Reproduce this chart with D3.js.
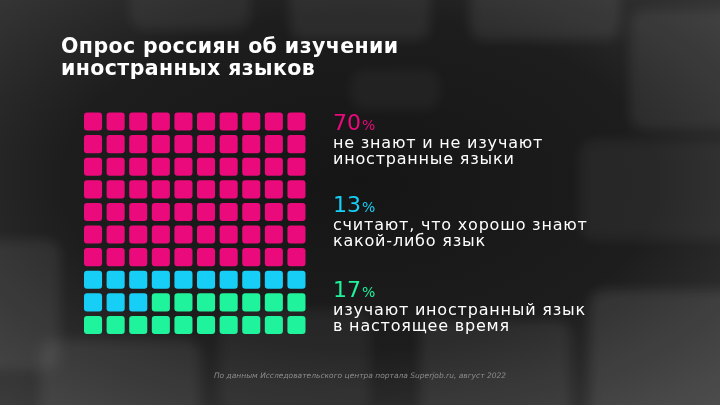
<!DOCTYPE html>
<html>
<head>
<meta charset="utf-8">
<script src="https://cdn.jsdelivr.net/npm/d3@7"></script>
<style>
  html, body { margin: 0; padding: 0; background: #1b1b1b; }
  svg { display: block; }
  text { font-family: "DejaVu Sans", "Noto Sans", sans-serif; }
</style>
</head>
<body>
<div class="container"></div>
<script>
// survey shares, one square per percent
const categories = ['dont', 'know', 'learn'];
const values = [70, 13, 17];
const colors = ['#ea0a7c', '#17cff6', '#1ff39b'];
const labels = [
    ['не знают и не изучают', 'иностранные языки'],
    ['считают, что хорошо знают', 'какой-либо язык'],
    ['изучают иностранный язык', 'в настоящее время']
];
const title = ['Опрос россиян об изучении', 'иностранных языков'];
const source = 'По данным Исследовательского центра портала Superjob.ru, август 2022';

const width = 720;
const height = 405;

const svg = d3.select('.container').append('svg').attr('width', width).attr('height', height);

// background, dark with a few soft blocks
const defs = svg.append('defs');
const bg = defs.append('radialGradient').attr('id', 'bg').attr('cx', '50%').attr('cy', '45%').attr('r', '75%');
bg.append('stop').attr('offset', '0%').attr('stop-color', '#151515');
bg.append('stop').attr('offset', '55%').attr('stop-color', '#1d1d1d');
bg.append('stop').attr('offset', '100%').attr('stop-color', '#3c3c3c');

defs.append('filter').attr('id', 'soft').attr('x', '-30%').attr('y', '-30%').attr('width', '160%').attr('height', '160%')
    .append('feGaussianBlur').attr('stdDeviation', 6);

svg.append('rect').attr('width', width).attr('height', height).attr('fill', 'url(#bg)');

const blocks = [
    [130, -30, 120, 60, 0.06], [290, -20, 140, 60, 0.07], [470, -30, 150, 70, 0.08],
    [630, 10, 110, 120, 0.07], [580, 140, 160, 100, 0.05], [-20, 240, 80, 130, 0.07],
    [420, 320, 150, 100, 0.07], [590, 290, 150, 130, 0.09], [40, 340, 160, 80, 0.07],
    [220, 310, 150, 100, 0.05], [350, 70, 90, 40, 0.04]
];
svg.append('g').attr('filter', 'url(#soft)').selectAll('rect').data(blocks).enter().append('rect')
    .attr('x', d => d[0]).attr('y', d => d[1])
    .attr('width', d => d[2]).attr('height', d => d[3])
    .attr('rx', 14).attr('fill', '#ffffff').attr('opacity', d => d[4]);

// title
svg.append('g').selectAll('text').data(title).enter().append('text')
    .attr('x', 61)
    .attr('y', (d, i) => 53 + i * 22)
    .attr('fill', '#ffffff')
    .attr('font-size', 20.5)
    .attr('font-weight', 700)
    .attr('letter-spacing', 0.4)
    .text(d => d);

// waffle grid
let cells = [];
categories.forEach((c, i) =>
{
    for (let k = 0; k < values[i]; k++)
        cells.push(i);
});

const cols = d3.range(10);
const x = d3.scaleBand().domain(cols).range([84, 305.5]).paddingInner(0.2).paddingOuter(0);
const y = d3.scaleBand().domain(cols).range([112.5, 334]).paddingInner(0.2).paddingOuter(0);

svg.append('g').selectAll('rect').data(cells).enter().append('rect')
    .attr('x', (d, i) => x(i % 10))
    .attr('y', (d, i) => y(Math.floor(i / 10)))
    .attr('width', x.bandwidth())
    .attr('height', y.bandwidth())
    .attr('rx', 3)
    .attr('fill', d => colors[d]);

// legend
const legendY = [130, 212, 297];

const legend = svg.append('g').selectAll('g').data(categories).enter().append('g')
    .attr('transform', (d, i) => `translate(333, ${legendY[i]})`);

const pct = legend.append('text')
    .attr('fill', (d, i) => colors[i])
    .attr('font-size', 22)
    .attr('font-weight', 400);
pct.append('tspan').text((d, i) => values[i]);
pct.append('tspan').attr('font-size', 14).attr('dx', 1).text('%');

legend.each(function(d, i)
{
    d3.select(this).selectAll('text.line').data(labels[i]).enter().append('text')
        .attr('class', 'line')
        .attr('y', (t, j) => 17.5 + j * 16.5)
        .attr('fill', '#ffffff')
        .attr('font-size', 16)
        .attr('letter-spacing', 0.8)
        .attr('font-weight', 400)
        .text(t => t);
});

// source line
svg.append('text')
    .attr('x', 360)
    .attr('y', 378)
    .attr('text-anchor', 'middle')
    .attr('fill', '#8c8c8c')
    .attr('font-size', 7.5)
    .attr('font-style', 'italic')
    .text(source);
</script>
</body>
</html>
